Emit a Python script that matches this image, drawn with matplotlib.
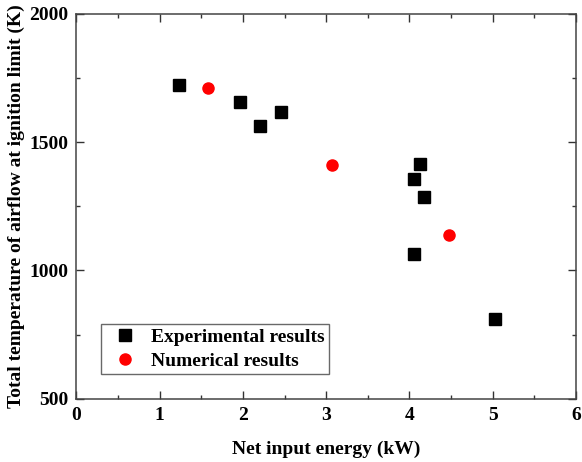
import matplotlib
matplotlib.use('Agg')
import matplotlib.pyplot as plt
from matplotlib.ticker import MultipleLocator

plt.rcParams['font.family'] = 'Liberation Serif'
plt.rcParams['font.weight'] = 'bold'

# measured points
exp_x = [1.23, 1.96, 2.21, 2.46, 4.13, 4.05, 4.17, 4.05, 5.03]
exp_y = [1724, 1657, 1563, 1618, 1416, 1356, 1287, 1064, 810]

# simulation points
num_x = [1.58, 3.07, 4.47]
num_y = [1711, 1411, 1140]

fig = plt.figure(figsize=(5.82, 4.62), dpi=100)
ax = fig.add_axes([0.1314, 0.137, 0.8583, 0.8327])

ax.plot(exp_x, exp_y, 's', color='black', markersize=8, label='Experimental results')
ax.plot(num_x, num_y, 'o', color='red', markersize=8, label='Numerical results')

ax.set_xlim(0, 6)
ax.set_ylim(500, 2000)
ax.xaxis.set_major_locator(MultipleLocator(1))
ax.xaxis.set_minor_locator(MultipleLocator(0.5))
ax.yaxis.set_major_locator(MultipleLocator(500))
ax.yaxis.set_minor_locator(MultipleLocator(250))
ax.tick_params(which='both', direction='in', top=True, right=True,
               labelsize=14, width=1, color='#333333', pad=6)
ax.tick_params(which='major', length=6)
ax.tick_params(which='minor', length=3)
for s in ax.spines.values():
    s.set_color('#444444')
    s.set_linewidth(1.1)

ax.set_xlabel('Net input energy (kW)', fontsize=14, fontweight='bold', labelpad=12)
ax.set_ylabel('Total temperature of airflow at ignition limit (K)', fontsize=14,
              fontweight='bold', labelpad=3)

leg = ax.legend(loc='lower left', bbox_to_anchor=(0.05, 0.064), fancybox=False,
                borderaxespad=0, prop={'weight': 'bold', 'size': 14},
                handletextpad=0.36, borderpad=0.2, labelspacing=0.35,
                handlelength=2.0)
leg.get_frame().set_edgecolor('#444444')
leg.get_frame().set_linewidth(1.0)

fig.savefig('out.png', dpi=100)
